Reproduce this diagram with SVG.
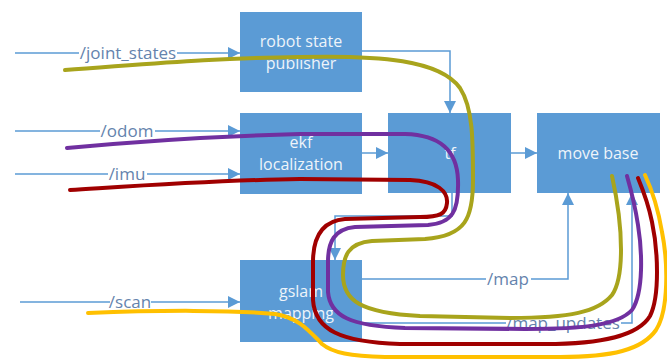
<svg xmlns="http://www.w3.org/2000/svg" width="667" height="361" viewBox="0 0 667 361">
<defs>
<marker id="arr" markerUnits="userSpaceOnUse" markerWidth="12" markerHeight="12" refX="12" refY="6" orient="auto">
<path d="M0,0 L12,6 L0,12 z" fill="#5b9bd5"/>
</marker>
<style>
.box{fill:#5b9bd5}
.bt{font-family:"Open Sans","Liberation Sans",sans-serif;font-size:16px;fill:#eef4fa;text-anchor:middle}
.ln{fill:none;stroke:#5b9bd5;stroke-width:1.5;marker-end:url(#arr)}
.lb{font-family:"Open Sans","Liberation Sans",sans-serif;font-size:17px;fill:#6483ad;text-anchor:middle}
.bg{fill:#ffffff}
.cv{fill:none;stroke-width:4;stroke-linecap:round}
</style>
</defs>
<rect width="667" height="361" fill="#ffffff"/>

<g id="connectors">
<path class="ln" d="M15,53 H240"/>
<path class="ln" d="M15,131 H240"/>
<path class="ln" d="M15,174 H240"/>
<path class="ln" d="M20,302 H240"/>
<path class="ln" d="M362,51 H450 V113"/>
<path class="ln" d="M362,153 H388"/>
<path class="ln" d="M511,153 H537"/>
<path class="ln" d="M452,193 V216 H335 V260"/>
<path class="ln" d="M362,279 H568 V193"/>
<path class="ln" d="M362,323 H632 V193"/>
<rect class="bg" x="79" y="44" width="98" height="18"/>
<text class="lb" x="128" y="59">/joint_states</text>
<rect class="bg" x="100" y="122" width="55" height="18"/>
<text class="lb" x="127" y="137">/odom</text>
<rect class="bg" x="108" y="165" width="39" height="18"/>
<text class="lb" x="127" y="180">/imu</text>
<rect class="bg" x="110" y="293" width="41" height="18"/>
<text class="lb" x="130" y="308">/scan</text>
<rect class="bg" x="486" y="270" width="45" height="18"/>
<text class="lb" x="508" y="285">/map</text>
<rect class="bg" x="506" y="314" width="115" height="18"/>
<text class="lb" x="563" y="329">/map_updates</text>
</g>

<g id="robot_state_publisher">
<rect class="box" x="240" y="12" width="122" height="80"/>
<text class="bt" x="301" y="47">robot state</text>
<text class="bt" x="301" y="69">publisher</text>
</g>
<g id="ekf_localization">
<rect class="box" x="240" y="113" width="122" height="81"/>
<text class="bt" x="301" y="148">ekf</text>
<text class="bt" x="301" y="170">localization</text>
</g>
<g id="tf">
<rect class="box" x="388" y="113" width="123" height="80"/>
<text class="bt" x="450" y="159">tf</text>
</g>
<g id="move_base">
<rect class="box" x="537" y="113" width="123" height="80"/>
<text class="bt" x="598" y="159">move base</text>
</g>
<g id="gslam_mapping">
<rect class="box" x="240" y="260" width="122" height="82"/>
<text class="bt" x="301" y="297">gslam</text>
<text class="bt" x="301" y="319">mapping</text>
</g>

<g id="flows">
<path class="cv" stroke="#a8a41c" d="M65,70 C150,64 210,58 300,57 C380,55 440,60 460,88 C473,108 473,140 473,180 C473,218 466,236 425,239 L372,241 C348,243 343,256 343,275 C343,300 360,313 420,316 L510,318 C570,318 598,312 612,295 C624,278 624,230 612,176"/>
<path class="cv" stroke="#7030a0" d="M67,148 C150,140 220,136 300,134 L405,134 C440,135 457,150 458,180 C459,212 452,223 428,225 L355,227 C334,229 328,242 328,262 L328,292 C330,316 350,326 405,328 L525,329 C585,329 618,325 632,310 C644,292 642,250 638,225 C635,205 631,190 627,176"/>
<path class="cv" stroke="#a00000" d="M70,190 C150,185 220,180 300,179 L410,180 C438,181 448,192 447,203 C446,214 440,217 420,217 L345,219 C321,221 313,238 313,262 L313,300 C315,330 340,342 400,344 L545,344 C602,344 638,336 650,316 C660,296 658,250 652,222 C648,202 643,190 638,178"/>
<path class="cv" stroke="#ffc000" d="M88,313 C160,310 235,310 275,314 C300,318 310,332 322,344 C333,353 350,356 385,357 L560,357 C612,357 642,350 656,330 C669,310 668,262 662,232 C658,208 652,190 645,175"/>
</g>
</svg>
